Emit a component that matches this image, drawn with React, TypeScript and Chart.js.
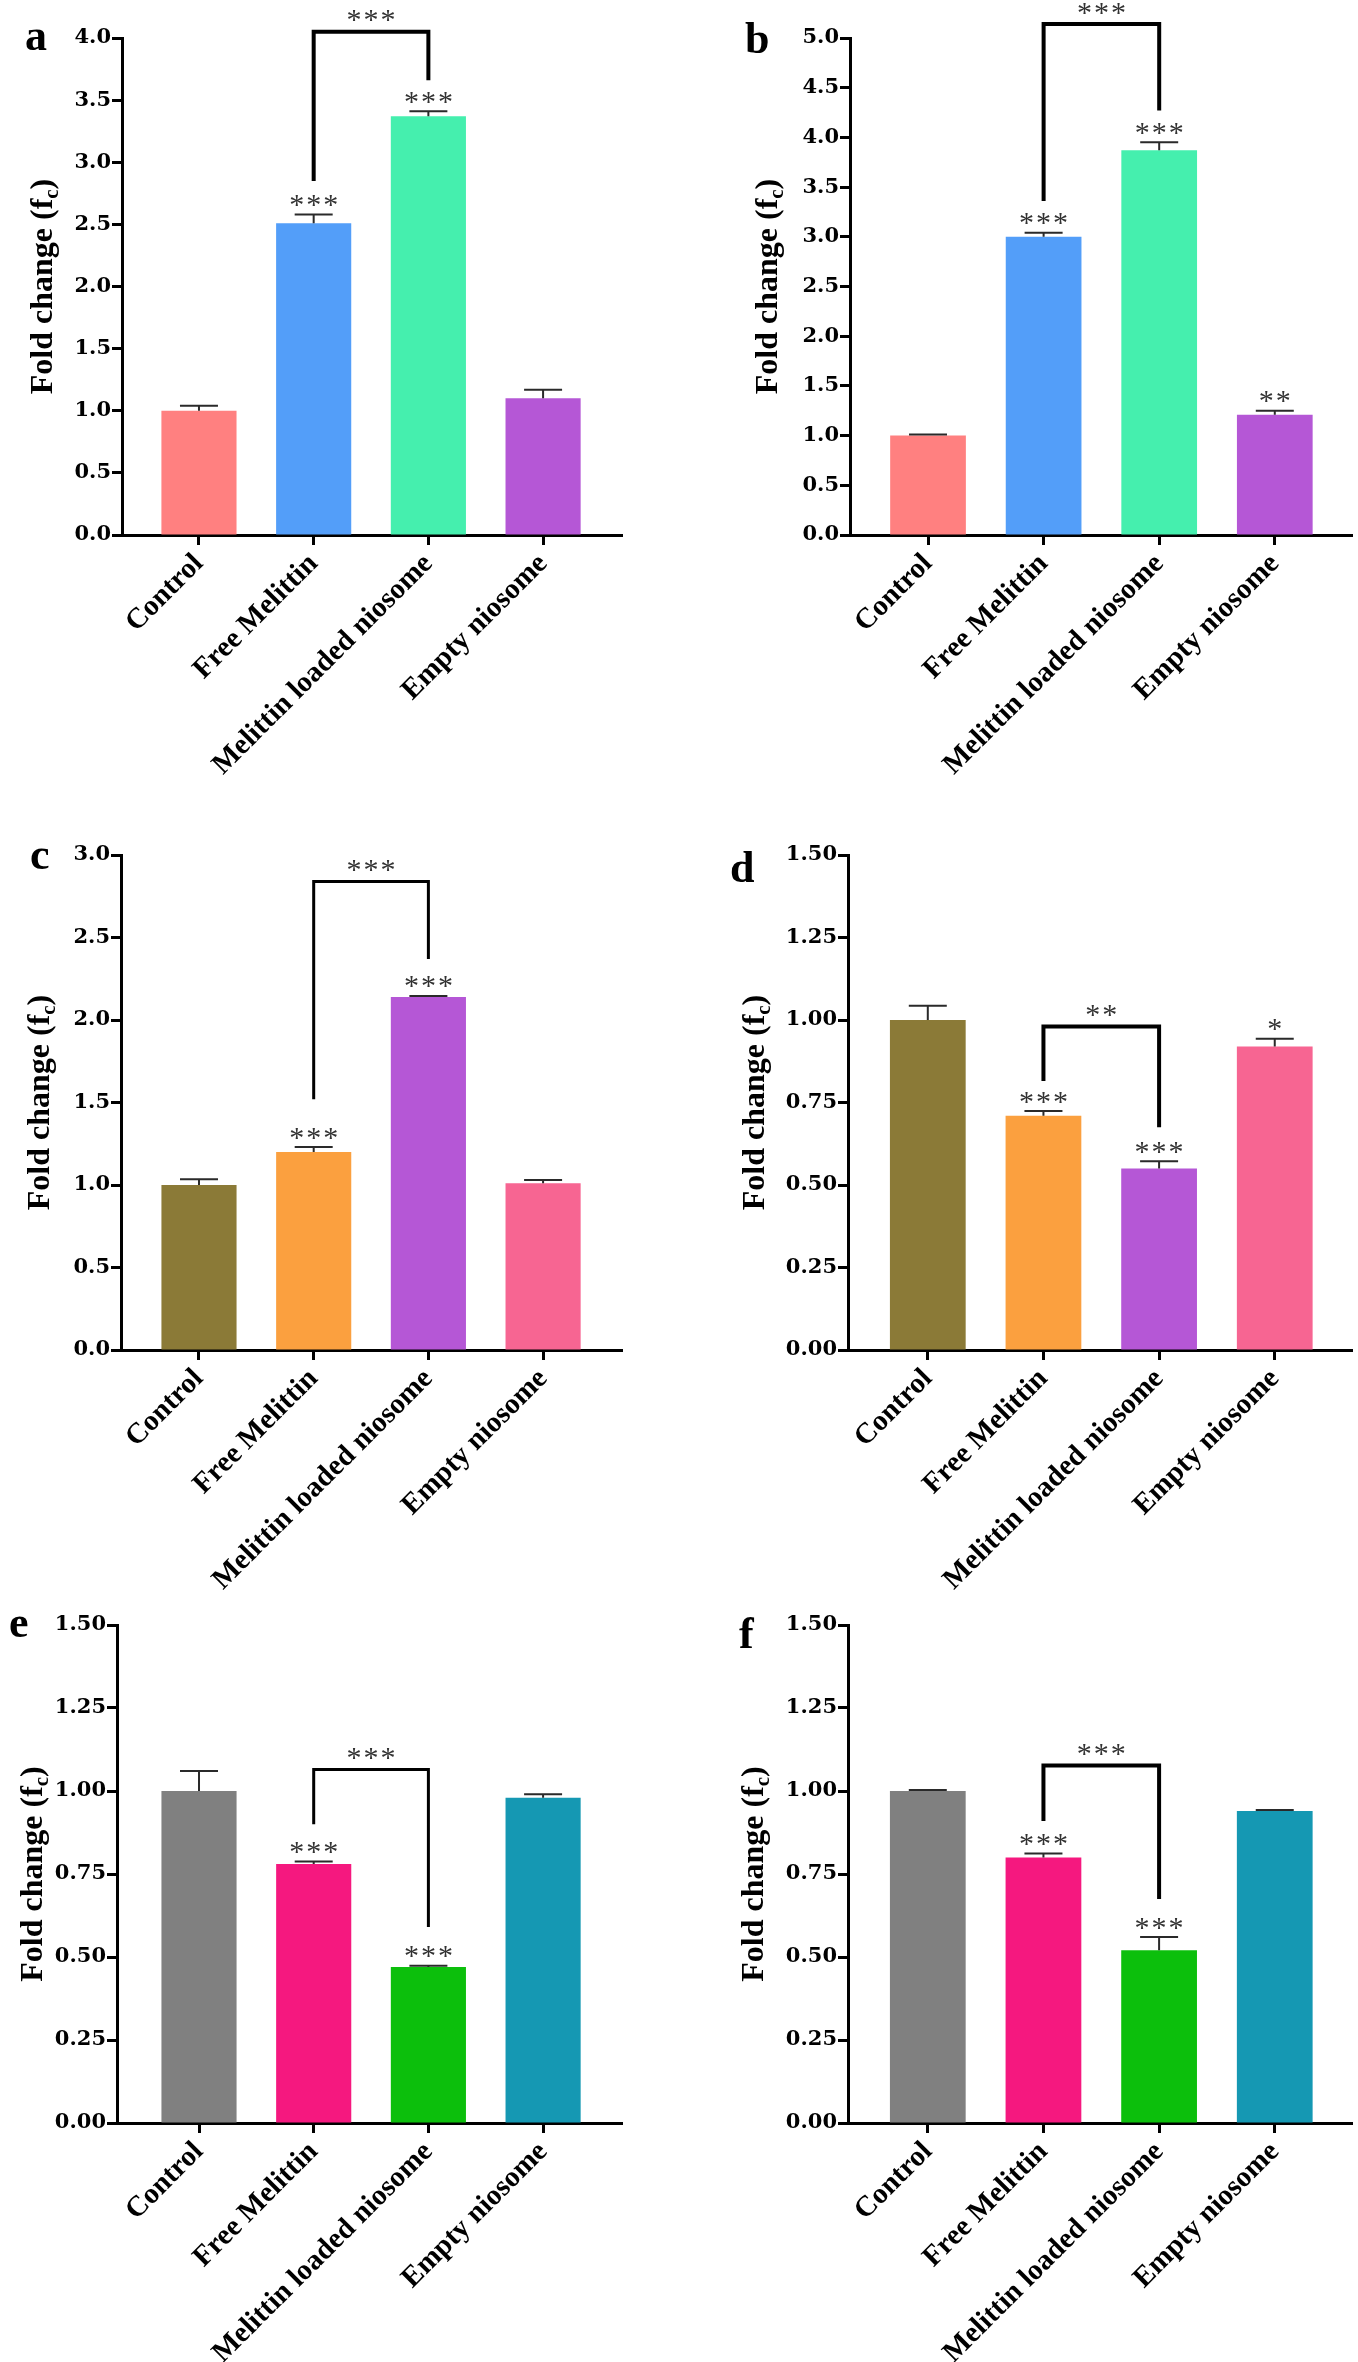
import React, { useEffect, useRef } from "react";
import { Chart, registerables } from "chart.js";

Chart.register(...registerables);

// ---------- data ----------
const categories = ["Control", "Free Melittin", "Melittin loaded niosome", "Empty niosome"];

const titleMain = "Fold change (f";
const titleSub = "c";
const titleEnd = ")";

// panel a
const aValues = [1.0, 2.51, 3.37, 1.1];
const aErrors = [0.04, 0.07, 0.04, 0.07];
const aStars = ["", "***", "***", ""];
const aYTickLabels = ["0.0", "0.5", "1.0", "1.5", "2.0", "2.5", "3.0", "3.5", "4.0"];
const aBracket = [1, 2, 2.85, 3.66, 4.05];
const aBracketLabel = "***";

// panel b
const bValues = [1.0, 3.0, 3.87, 1.21];
const bErrors = [0.01, 0.04, 0.08, 0.04];
const bStars = ["", "***", "***", "**"];
const bYTickLabels = ["0.0", "0.5", "1.0", "1.5", "2.0", "2.5", "3.0", "3.5", "4.0", "4.5", "5.0"];
const bBracket = [1, 2, 3.36, 4.27, 5.14];
const bBracketLabel = "***";

// panel c
const cValues = [1.0, 1.2, 2.14, 1.01];
const cErrors = [0.035, 0.03, 0.006, 0.02];
const cStars = ["", "***", "***", ""];
const cYTickLabels = ["0.0", "0.5", "1.0", "1.5", "2.0", "2.5", "3.0"];
const cBracket = [1, 2, 1.52, 2.37, 2.84];
const cBracketLabel = "***";

// panel d
const dValues = [1.0, 0.71, 0.55, 0.92];
const dErrors = [0.043, 0.014, 0.022, 0.023];
const dStars = ["", "***", "***", "*"];
const dYTickLabels = ["0.00", "0.25", "0.50", "0.75", "1.00", "1.25", "1.50"];
const dBracket = [1, 2, 0.815, 0.675, 0.98];
const dBracketLabel = "**";

// panel e
const eValues = [1.0, 0.78, 0.47, 0.98];
const eErrors = [0.06, 0.008, 0.004, 0.01];
const eStars = ["", "***", "***", ""];
const eYTickLabels = ["0.00", "0.25", "0.50", "0.75", "1.00", "1.25", "1.50"];
const eBracket = [1, 2, 0.9, 0.59, 1.065];
const eBracketLabel = "***";

// panel f
const fValues = [1.0, 0.8, 0.52, 0.94];
const fErrors = [0.003, 0.012, 0.04, 0.003];
const fStars = ["", "***", "***", ""];
const fYTickLabels = ["0.00", "0.25", "0.50", "0.75", "1.00", "1.25", "1.50"];
const fBracket = [1, 2, 0.91, 0.675, 1.077];
const fBracketLabel = "***";

// colours
const paletteAB = ["#FF8080", "#539EF9", "#45EFAE", "#B557D6"];
const paletteCD = ["#8B7A37", "#FBA03F", "#B557D6", "#F76592"];
const paletteEF = ["#808080", "#F5187F", "#0CBF0C", "#1598B3"];

// ---------- layout (canvas-local pixels) ----------
const XAXIS_H = 250;
const layouts: any = {
  a: { left: 0, top: 0, w: 679, h: 800, axisX: 122, topY: 38, zeroY: 535, rightX: 622, xMin: -0.671, xMax: 3.688, letterX: 25, letterY: 50, titleX: 41, bw: 4 },
  b: { left: 679, top: 0, w: 679, h: 800, axisX: 171, topY: 38, zeroY: 535, rightX: 673, xMin: -0.675, xMax: 3.668, letterX: 66, letterY: 53, titleX: 87, bw: 4 },
  c: { left: 0, top: 800, w: 679, h: 800, axisX: 121, topY: 55, zeroY: 550, rightX: 622, xMin: -0.68, xMax: 3.688, letterX: 30, letterY: 69, titleX: 38, bw: 3 },
  d: { left: 679, top: 800, w: 679, h: 800, axisX: 169, topY: 55, zeroY: 550, rightX: 673, xMin: -0.69, xMax: 3.668, letterX: 51, letterY: 82, titleX: 74, bw: 4 },
  e: { left: 0, top: 1580, w: 679, h: 800, axisX: 117, topY: 45, zeroY: 543, rightX: 622, xMin: -0.715, xMax: 3.688, letterX: 9, letterY: 57, titleX: 31, bw: 3 },
  f: { left: 679, top: 1580, w: 679, h: 800, axisX: 169, topY: 45, zeroY: 543, rightX: 673, xMin: -0.69, xMax: 3.668, letterX: 60, letterY: 68, titleX: 73, bw: 4 },
};

const panels = [
  { letter: "a", values: aValues, errors: aErrors, stars: aStars, yLabels: aYTickLabels, bracket: aBracket, bracketLabel: aBracketLabel, colors: paletteAB },
  { letter: "b", values: bValues, errors: bErrors, stars: bStars, yLabels: bYTickLabels, bracket: bBracket, bracketLabel: bBracketLabel, colors: paletteAB },
  { letter: "c", values: cValues, errors: cErrors, stars: cStars, yLabels: cYTickLabels, bracket: cBracket, bracketLabel: cBracketLabel, colors: paletteCD },
  { letter: "d", values: dValues, errors: dErrors, stars: dStars, yLabels: dYTickLabels, bracket: dBracket, bracketLabel: dBracketLabel, colors: paletteCD },
  { letter: "e", values: eValues, errors: eErrors, stars: eStars, yLabels: eYTickLabels, bracket: eBracket, bracketLabel: eBracketLabel, colors: paletteEF },
  { letter: "f", values: fValues, errors: fErrors, stars: fStars, yLabels: fYTickLabels, bracket: fBracket, bracketLabel: fBracketLabel, colors: paletteEF },
];

const STAR_FONT = "30px 'Liberation Serif'";
const TICK_FONT = { family: "'DejaVu Serif'", weight: "bold" as const, size: 21 };
const CAT_FONT = { family: "'Liberation Serif'", weight: "bold" as const, size: 29 };

function drawCentered(ctx: CanvasRenderingContext2D, text: string, x: number, y: number, font: string, color: string, spacing = 2) {
  ctx.font = font;
  ctx.fillStyle = color;
  ctx.textAlign = "left";
  ctx.textBaseline = "alphabetic";
  (ctx as any).letterSpacing = spacing + "px";
  const m = ctx.measureText(text);
  const w = m.width - spacing;
  const base = y + (m.actualBoundingBoxAscent - m.actualBoundingBoxDescent) / 2;
  ctx.fillText(text, x - w / 2, base);
  (ctx as any).letterSpacing = "0px";
}

function makeAnnotator(p: any, L: any) {
  return {
    id: "annot_" + p.letter,
    afterDatasetsDraw(chart: any) {
      const ctx: CanvasRenderingContext2D = chart.ctx;
      const xs = chart.scales.x;
      const ys = chart.scales.y;
      ctx.save();
      p.values.forEach((v: number, i: number) => {
        const cx = xs.getPixelForValue(i);
        const yTop = ys.getPixelForValue(v);
        const yErr = ys.getPixelForValue(v + p.errors[i]);
        ctx.strokeStyle = "#2a2a2a";
        ctx.lineWidth = 2;
        ctx.beginPath();
        ctx.moveTo(cx, yTop);
        ctx.lineTo(cx, yErr);
        ctx.moveTo(cx - 19, yErr);
        ctx.lineTo(cx + 19, yErr);
        ctx.stroke();
        if (p.stars[i]) drawCentered(ctx, p.stars[i], cx, yErr - 14, STAR_FONT, "#333");
      });
      const [i0, i1, yl, yr, yt] = p.bracket;
      const x0 = xs.getPixelForValue(i0);
      const x1 = xs.getPixelForValue(i1);
      const pl = ys.getPixelForValue(yl);
      const pr = ys.getPixelForValue(yr);
      const pt = ys.getPixelForValue(yt);
      ctx.strokeStyle = "#000";
      ctx.lineWidth = L.bw;
      ctx.lineJoin = "miter";
      ctx.lineCap = "butt";
      ctx.beginPath();
      ctx.moveTo(x0, pl);
      ctx.lineTo(x0, pt);
      ctx.lineTo(x1, pt);
      ctx.lineTo(x1, pr);
      ctx.stroke();
      drawCentered(ctx, p.bracketLabel, (x0 + x1) / 2, pt - 16, STAR_FONT, "#333");
      ctx.restore();
    },
    afterDraw(chart: any) {
      const ctx: CanvasRenderingContext2D = chart.ctx;
      ctx.save();
      ctx.fillStyle = "#000";
      ctx.font = "bold 44px 'Liberation Serif'";
      ctx.textAlign = "left";
      ctx.textBaseline = "alphabetic";
      ctx.fillText(p.letter, L.letterX, L.letterY);
      const ca = chart.chartArea;
      ctx.translate(L.titleX, (ca.top + ca.bottom) / 2);
      ctx.rotate(-Math.PI / 2);
      const big = "bold 32px 'Liberation Serif'";
      const small = "bold 21px 'Liberation Serif'";
      ctx.font = big;
      const w1 = ctx.measureText(titleMain).width;
      const w3 = ctx.measureText(titleEnd).width;
      ctx.font = small;
      const w2 = ctx.measureText(titleSub).width;
      let x = -(w1 + w2 + w3) / 2;
      const base = 11;
      ctx.font = big;
      ctx.fillText(titleMain, x, base);
      x += w1;
      ctx.font = small;
      ctx.fillText(titleSub, x, base + 6);
      x += w2;
      ctx.font = big;
      ctx.fillText(titleEnd, x, base);
      ctx.restore();
    },
  };
}

function Panel({ p }: { p: any }) {
  const ref = useRef<HTMLCanvasElement | null>(null);
  const L = layouts[p.letter];
  useEffect(() => {
    const yTicks = p.yLabels.map((s: string) => parseFloat(s));
    const chart = new Chart(ref.current as HTMLCanvasElement, {
      type: "bar",
      data: {
        datasets: [
          {
            data: p.values.map((v: number, i: number) => ({ x: i, y: v })),
            backgroundColor: p.colors,
            borderWidth: 0,
            barPercentage: 0.655,
            categoryPercentage: 1,
          } as any,
        ],
      },
      options: {
        animation: false,
        responsive: false,
        devicePixelRatio: 1,
        events: [],
        layout: {
          padding: { left: 0, top: L.topY, right: L.w - L.rightX, bottom: L.h - L.zeroY - XAXIS_H },
        },
        plugins: { legend: { display: false }, tooltip: { enabled: false } },
        scales: {
          x: {
            type: "linear",
            min: L.xMin,
            max: L.xMax,
            offset: false,
            afterBuildTicks: (scale: any) => {
              scale.ticks = categories.map((_, i) => ({ value: i }));
            },
            afterFit: (scale: any) => {
              scale.height = XAXIS_H;
            },
            ticks: {
              autoSkip: false,
              minRotation: 45,
              maxRotation: 45,
              padding: 2,
              color: "#000",
              font: CAT_FONT,
              callback: (v: any) => categories[Math.round(Number(v))],
            },
            grid: { drawOnChartArea: false, offset: false, tickLength: 10, tickWidth: 3, tickColor: "#000" },
            border: { display: true, color: "#000", width: 3 },
          } as any,
          y: {
            type: "linear",
            min: 0,
            max: yTicks[yTicks.length - 1],
            afterBuildTicks: (scale: any) => {
              scale.ticks = yTicks.map((v: number) => ({ value: v }));
            },
            afterFit: (scale: any) => {
              scale.width = L.axisX;
            },
            ticks: {
              padding: 1,
              color: "#000",
              font: TICK_FONT,
              callback: (_v: any, idx: number) => p.yLabels[idx],
            },
            grid: { drawOnChartArea: false, tickLength: 10, tickWidth: 3, tickColor: "#000" },
            border: { display: true, color: "#000", width: 3 },
          } as any,
        },
      },
      plugins: [makeAnnotator(p, L)],
    });
    return () => chart.destroy();
  }, [p]);
  return (
    <canvas
      ref={ref}
      width={L.w}
      height={L.h}
      style={{ position: "absolute", left: L.left, top: L.top, width: L.w, height: L.h }}
    />
  );
}

export default function App() {
  return (
    <div style={{ position: "absolute", left: 0, top: 0, width: 1358, height: 2362, background: "#fff", overflow: "hidden" }}>
      {panels.map((p) => (
        <Panel key={p.letter} p={p} />
      ))}
    </div>
  );
}
